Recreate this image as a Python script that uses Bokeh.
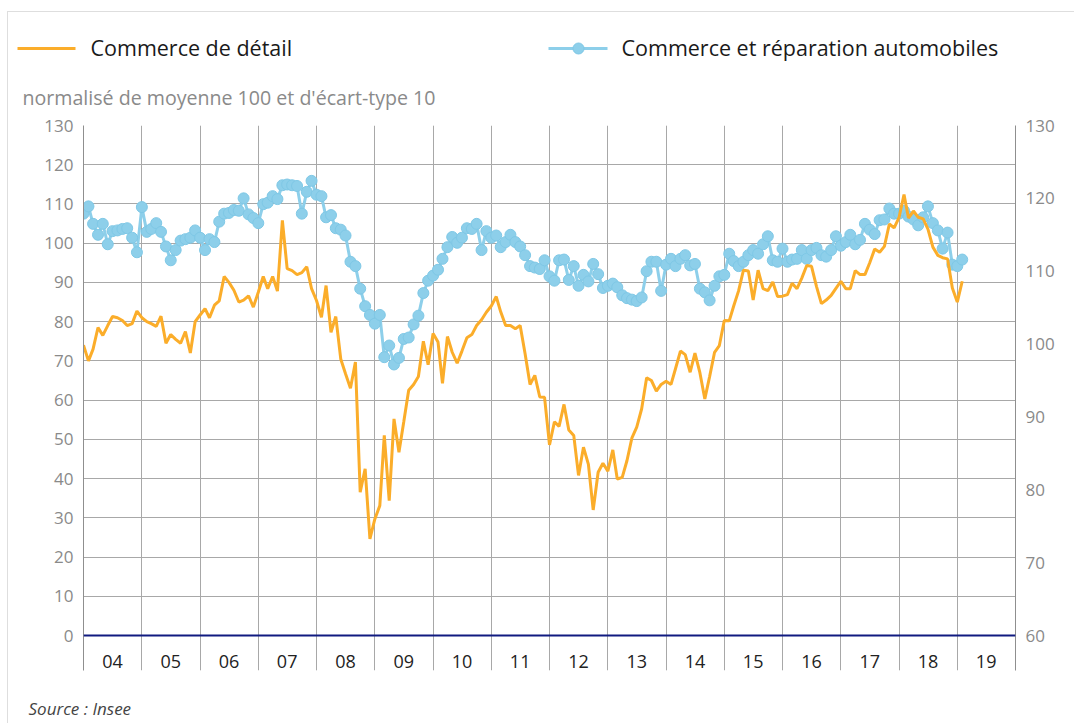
import pandas as pd
from datetime import datetime
from bokeh.plotting import figure
from bokeh.layouts import column
from bokeh.models import (Range1d, LinearAxis, FixedTicker, Span,
                          Grid, ColumnDataSource)
from bokeh.embed import file_html
from bokeh.resources import INLINE
from bokeh.core.properties import value

# ---------------- data ----------------
year_labels = ["04", "05", "06", "07", "08", "09", "10", "11",
               "12", "13", "14", "15", "16", "17", "18", "19"]
series_names = ["Commerce de détail", "Commerce et réparation automobiles"]

# Commerce de détail (left axis), monthly from Jan 2004
retail = [
    74, 70, 73, 78.5, 76.5, 79, 81.3, 81, 80.3, 79, 79.5, 82.7,
    81, 80, 79.5, 78.8, 81.4, 74.5, 76.7, 75.5, 74.5, 77.5, 72, 80,
    81.7, 83.3, 81, 84.2, 85.3, 91.5, 90, 88, 85, 85.5, 86.6, 83.7,
    87.5, 91.5, 88.4, 91.5, 87.8, 105.8, 93.5, 93, 92, 92.5, 94, 88.4,
    85.4, 81.1, 89.2, 77.3, 81.3, 70.5, 66.7, 63, 69.7, 36.5, 42.5, 24.6,
    29.7, 33.1, 51, 34.4, 55.2, 46.7, 54.4, 62.5, 64, 66, 75, 69,
    77, 74.8, 64.3, 76.2, 72.2, 69.4, 72.5, 75.9, 76.7, 79, 80.5, 82.4,
    84, 86.4, 82.5, 79, 79, 78.2, 79, 71.8, 64, 66.3, 60.8, 60.7,
    48.6, 54.5, 53.3, 58.9, 52.4, 51, 40.8, 48, 43.6, 32, 41.6, 43.9,
    41.9, 47.3, 39.9, 40.3, 44.6, 50.4, 53.1, 57.8, 65.7, 65, 62.3, 64,
    64.8, 64, 68, 72.5, 71.6, 67.1, 72, 67, 60.3, 66, 72.2, 73.9,
    80.3, 80.2, 84, 87.9, 93.1, 92.9, 85.5, 93.1, 88.4, 87.9, 90.1, 86.4,
    86.5, 86.9, 89.8, 88.4, 91.1, 94.3, 94.1, 89, 84.6, 85.5, 86.7, 88.5,
    90.3, 88.4, 88.4, 93, 92, 92, 95, 98.5, 97.7, 99.2, 104.9, 103.9,
    106.6, 112.4, 106.4, 108.2, 106.6, 106.2, 103.6, 99, 96.9, 96.3, 96, 88.6,
    85, 90.3,
]

# Commerce et réparation automobiles (right axis), monthly from Jan 2004
auto = [
    117.9, 118.9, 116.5, 115.0, 116.5, 113.7, 115.5, 115.6, 115.8, 115.9, 114.6, 112.6,
    118.8, 115.4, 115.8, 116.6, 115.4, 113.4, 111.5, 112.9, 114.2, 114.4, 114.6, 115.6,
    114.6, 112.9, 114.4, 114.0, 116.8, 117.9, 118.0, 118.4, 118.3, 120.0, 117.8, 117.3,
    116.6, 119.2, 119.4, 120.3, 119.9, 121.8, 121.9, 121.8, 121.7, 117.9, 120.9, 122.4,
    120.5, 120.3, 117.4, 117.7, 115.9, 115.7, 114.9, 111.3, 110.7, 107.6, 105.2, 104.0,
    102.8, 104.0, 98.2, 99.8, 97.2, 98.1, 100.7, 100.9, 102.7, 103.9, 107.0, 108.7,
    109.4, 110.2, 111.7, 113.3, 114.7, 113.9, 114.6, 115.9, 115.8, 116.5, 112.9, 115.5,
    114.6, 114.9, 113.3, 114.0, 115.0, 114.0, 113.4, 112.2, 110.7, 110.5, 110.3, 111.5,
    109.3, 108.7, 111.5, 111.6, 108.8, 110.7, 108.0, 109.5, 108.6, 111.0, 109.6, 107.7,
    108.0, 108.3, 107.8, 106.7, 106.3, 106.1, 105.9, 106.4, 110.0, 111.3, 111.3, 107.3,
    110.9, 111.7, 110.7, 111.7, 112.2, 110.8, 111.0, 107.6, 107.1, 106.0, 108.0, 109.3,
    109.5, 112.4, 111.4, 110.7, 111.3, 112.2, 112.9, 112.4, 113.7, 114.8, 111.5, 111.3,
    113.1, 111.3, 111.6, 111.7, 112.9, 111.7, 112.9, 113.2, 112.2, 112.0, 112.9, 114.8,
    113.5, 114.0, 115.0, 113.7, 114.3, 116.5, 115.7, 115.1, 117.0, 117.1, 118.6, 117.9,
    117.9, 118.3, 117.5, 117.1, 116.3, 117.4, 118.9, 116.6, 115.6, 113.1, 115.3, 110.9,
    110.7, 111.6,
]

left_ticks = list(range(0, 131, 10))
right_ticks = list(range(60, 131, 10))

# ---------------- geometry / style ----------------
FRAME_W, FRAME_H = 932, 545
PLOT_H = 510             # height of the 0..130 part
BAND = FRAME_H - PLOT_H  # band below zero holding the year labels
left_start = -BAND * 130 / PLOT_H
right_start = 60 - BAND * 70 / PLOT_H
FIG_W = 1054
HEAD_W = 1066
HEAD_H = 101
FOOT_H = 45

months = pd.date_range("2004-01-01", periods=len(retail), freq="MS")
year_starts = [datetime(2004 + k, 1, 1) for k in range(len(year_labels) + 1)]
year_mids = [datetime(2004 + k, 7, 1) for k in range(len(year_labels))]

FONT = "Open Sans"
ORANGE = "#fbad2a"
BLUE = "#8dcfea"
GRID = "#a8a8a8"
AXIS = "#8f8f8f"


def blank_fig(w, hgt):
    f = figure(width=w, height=hgt, output_backend="svg", toolbar_location=None,
               x_range=Range1d(0, w), y_range=Range1d(hgt, 0),
               x_axis_location=None, y_axis_location=None,
               min_border=0, outline_line_color=None)
    f.frame_align = False
    f.grid.visible = False
    f.background_fill_color = "white"
    f.border_fill_color = "white"
    return f


# ---------------- header (legend + unit) ----------------
h = blank_fig(HEAD_W, HEAD_H)
h.line([9, 67], [36, 36], line_color=ORANGE, line_width=3)
h.line([540, 599], [36, 36], line_color=BLUE, line_width=3)
h.scatter([570], [36], size=11, fill_color=BLUE, line_color="#7fc8e6")
h.text(x=[82, 613], y=[35, 35], text=series_names,
       text_font=value(FONT), text_font_size="21.5px", text_color="#1a1a1a",
       text_baseline="middle", text_align="left")
h.text(x=[14], y=[85], text=["normalisé de moyenne 100 et d'écart-type 10"],
       text_font=value(FONT), text_font_size="19.6px", text_color="#8a8a8a",
       text_baseline="middle", text_align="left")

# ---------------- main chart ----------------
p = figure(frame_width=FRAME_W, frame_height=FRAME_H,
           output_backend="svg", toolbar_location=None,
           x_axis_type="datetime", x_axis_location=None,
           x_range=Range1d(year_starts[0], year_starts[-1]),
           y_range=Range1d(left_start, 130),
           min_border_left=75, min_border_right=FIG_W - 75 - FRAME_W,
           min_border_top=12, min_border_bottom=8)
p.frame_align = False
p.outline_line_color = None
p.background_fill_color = "white"
p.border_fill_color = "white"


def style_axis(ax):
    ax.axis_line_color = AXIS
    ax.major_tick_line_color = None
    ax.minor_tick_line_color = None
    ax.major_tick_out = 0
    ax.major_tick_in = 0
    ax.minor_tick_out = 0
    ax.minor_tick_in = 0
    ax.major_label_standoff = 10
    ax.major_label_text_color = "#8a8a8a"
    ax.major_label_text_font = FONT
    ax.major_label_text_font_size = "17px"


ya = p.yaxis[0]
ya.ticker = FixedTicker(ticks=left_ticks)
style_axis(ya)

p.extra_y_ranges = {"right": Range1d(right_start, 130)}
ra = LinearAxis(y_range_name="right", ticker=FixedTicker(ticks=right_ticks))
style_axis(ra)
p.add_layout(ra, "right")

p.ygrid.ticker = FixedTicker(ticks=left_ticks)
p.ygrid.grid_line_color = GRID
p.ygrid.grid_line_width = 1
xg = Grid(dimension=0, ticker=FixedTicker(ticks=[d.timestamp() * 1000 for d in year_starts[1:-1]]),
          grid_line_color=GRID, grid_line_width=1)
p.add_layout(xg)

p.add_layout(Span(location=0, dimension="width", line_color="#101a80", line_width=2))

p.text(x=year_mids, y=[-6.6] * len(year_mids), text=year_labels,
       text_align="center", text_baseline="middle",
       text_font=value(FONT), text_font_size="18px", text_color="#222222")

src_auto = ColumnDataSource(dict(x=months, y=auto))
src_ret = ColumnDataSource(dict(x=months, y=retail))
p.line("x", "y", source=src_auto, y_range_name="right", line_color=BLUE, line_width=3)
p.scatter("x", "y", source=src_auto, y_range_name="right", size=11,
          fill_color=BLUE, line_color="#7fc8e6", line_width=1)
p.line("x", "y", source=src_ret, line_color=ORANGE, line_width=3)

# ---------------- footer (source) ----------------
f = blank_fig(FIG_W, FOOT_H)
f.text(x=[20], y=[30], text=["Source : Insee"],
       text_font=value(FONT), text_font_style="italic", text_font_size="17px",
       text_color="#444444", text_baseline="middle", text_align="left")

layout = column(h, p, f, spacing=0,
                styles={"margin-left": "7px", "margin-top": "11px",
                        "border-left": "1px solid #dedede", "border-top": "1px solid #dedede"})

open("out.html", "w").write(file_html(layout, INLINE))
